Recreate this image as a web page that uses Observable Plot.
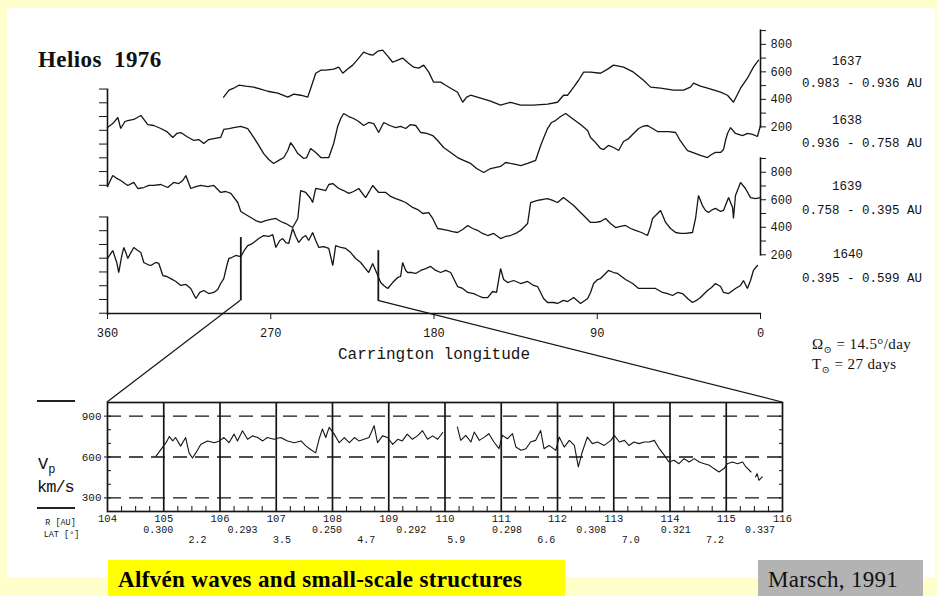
<!DOCTYPE html>
<html><head><meta charset="utf-8">
<script src="https://cdn.jsdelivr.net/npm/d3@7"></script>
<script src="https://cdn.jsdelivr.net/npm/@observablehq/plot@0.6"></script>
<style>
html,body{margin:0;padding:0;}
body{width:937px;height:596px;background:#ffffcc;position:relative;overflow:hidden;}
.abs{position:absolute;}
.lbl{position:absolute;line-height:1;white-space:pre;color:#111;}
.c{transform:translate(-50%,-50%);}
.l{transform:translateY(-50%);}
.mono{font-family:"Liberation Mono","DejaVu Sans Mono",monospace;}
.serif{font-family:"Liberation Serif","DejaVu Serif",serif;}
</style></head>
<body>
<div class="abs" style="left:7px;top:8px;width:928px;height:569px;background:#fff"></div>
<div id="top" class="abs" style="left:0;top:0"></div>
<div id="bot" class="abs" style="left:0;top:380px"></div>
<svg id="ov" class="abs" width="937" height="596" style="left:0;top:0;pointer-events:none;overflow:visible"></svg>

<div class="lbl l serif" style="left:38px;top:59px;font-size:23px;font-weight:bold;letter-spacing:0.4px;">Helios  1976</div>

<div class="lbl c mono" style="left:847px;top:62px;font-size:12.5px;">1637</div>
<div class="lbl c mono" style="left:862px;top:84px;font-size:12.5px;">0.983 - 0.936 AU</div>
<div class="lbl c mono" style="left:847px;top:121px;font-size:12.5px;">1638</div>
<div class="lbl c mono" style="left:862px;top:144px;font-size:12.5px;">0.936 - 0.758 AU</div>
<div class="lbl c mono" style="left:847px;top:187px;font-size:12.5px;">1639</div>
<div class="lbl c mono" style="left:862px;top:211px;font-size:12.5px;">0.758 - 0.395 AU</div>
<div class="lbl c mono" style="left:848px;top:255px;font-size:12.5px;">1640</div>
<div class="lbl c mono" style="left:862px;top:279px;font-size:12.5px;">0.395 - 0.599 AU</div>

<div class="lbl l serif" style="left:812px;top:346px;font-size:15px;letter-spacing:0.4px;">Ω<sub style="font-size:10px;">⊙</sub> = 14.5°/day</div>
<div class="lbl l serif" style="left:812px;top:366px;font-size:15px;letter-spacing:0.4px;">T<sub style="font-size:10px;">⊙</sub> = 27 days</div>

<div class="abs" style="left:37px;top:400px;width:38px;height:1.5px;background:#222"></div>
<div class="abs" style="left:37px;top:507px;width:38px;height:1.5px;background:#222"></div>
<div class="lbl l mono" style="left:38px;top:466px;font-size:17px;">V<sub style="font-size:12px;">p</sub></div>
<div class="lbl l mono" style="left:37px;top:487px;font-size:17px;letter-spacing:-1px;">km/s</div>

<div class="abs serif" style="left:108px;top:560px;width:457px;height:36px;background:#ffff00;"></div>
<div class="lbl l serif" style="left:118px;top:579px;font-size:23px;font-weight:bold;letter-spacing:0.35px;color:#000;">Alfvén waves and small-scale structures</div>
<div class="abs" style="left:758px;top:560px;width:165px;height:36px;background:#b3b3b3;"></div>
<div class="lbl l serif" style="left:768px;top:579px;font-size:23px;letter-spacing:0.3px;color:#111;">Marsch, 1991</div>

<script>
// ---------------- DATA ----------------
const rotations = ["1637", "1638", "1639", "1640"];
const rotOffset = [930, 530, 0, -400];   // vertical stacking offsets (km/s units)

const lon1637 = [296,293,290.4,287.6,283.8,279.4,275.5,271.7,266.1,260.6,257.3,253.5,249.6,247.4,245.2,242.4,239.7,235.3,232.5,230.3,227.6,224.8,221.5,218.8,216,213.8,211,208.3,205.5,202.8,200,197.3,194,191.2,188.4,185.7,182.9,180.2,176.3,173.6,170.8,167,164.2,162,159.8,154.3,148.8,143.3,137.8,132.2,125.1,117.4,111.9,108.6,106.3,103,100.3,97.5,93.7,88.2,84.3,81,75.5,70,64.5,60.6,55.1,47.9,42.4,38.6,36.9,33.1,29.2,22,18.2,14.9,11,7.2,3.9,1.1];
const v1637 = [416,467,481,503,496,489,474,459,445,416,438,430,416,503,590,612,612,620,634,590,620,649,700,743,728,721,750,758,714,670,685,700,663,634,627,649,598,525,525,503,481,452,379,416,430,409,387,358,379,358,358,365,379,430,430,489,539,598,598,590,620,649,634,598,539,489,481,467,467,489,518,496,481,452,430,379,481,554,634,685];

const lon1638 = [360,357.1,354.3,352.7,350.4,348.8,345.5,341.6,337.8,334.5,330.6,327.3,324,321.8,319.6,316.3,312.4,309.7,306.9,304.2,301.4,297.6,295.9,293.1,290.4,286.5,282.7,279.4,276.6,273.9,271.1,268.4,265.6,262.8,260.6,259,256.8,255.1,251.8,250.2,248,245.2,242.4,238,235.3,233.1,231.4,229.8,227,224.3,221.5,218.8,216,213.2,210.5,207.7,204.4,201.1,198.4,195.6,192.9,190.1,187.3,184,180.7,178,174.7,170.8,167,163.7,159.8,156.5,152.6,148.8,143.3,140.5,137.8,134.4,132.2,128.4,124,121.2,119,117.4,115.2,113,110.2,107.4,105.2,103,99.2,95.3,93.7,91.5,88.2,86.5,83.8,81,78.2,75.5,72.7,70,67.2,65,62.3,59.5,56.8,54,50.7,46.8,44.6,42.4,40.2,37.5,33.1,29.2,27,24.8,22,20.4,19.3,18.2,16.5,13.8,9.9,7.2,4.4,1.7,0];
const v1638 = [595,624,668,588,639,646,654,683,617,610,588,566,523,552,559,530,501,508,479,508,515,523,581,588,595,603,588,523,465,406,363,334,356,377,428,486,443,406,370,377,443,414,377,377,479,603,661,697,675,661,639,610,632,624,559,632,610,595,603,588,617,610,559,552,537,501,450,414,377,356,334,297,268,297,312,341,334,326,319,334,356,465,537,588,632,646,675,697,675,654,617,574,523,494,443,435,465,450,428,494,515,552,588,603,610,588,566,566,566,559,508,465,428,414,392,377,399,414,414,435,501,552,595,552,537,552,545,530,610];

const lon1639 = [360,357.1,354.9,352.7,350.4,348.8,345.5,343.3,340,337.2,334.5,330.6,326.8,323.5,320.7,318.5,316.8,314.1,311.3,308.6,304.7,301.4,297.6,294.8,292,288.2,286.5,283.8,281,278.3,275.5,272.8,270,267.2,264.5,261.7,257.9,255.1,253.5,250.7,248,246.9,245.2,242.4,239.7,238,235.8,232.5,229.8,227,224.3,221.5,217.7,215.4,213.8,210.5,206.6,203.9,201.1,198.4,195.6,191.8,189,186.2,182.9,180.7,178,175.2,172.5,169.7,167,164.2,161.4,158.7,155.9,153.2,150.4,147.1,143.3,140.5,137.8,135,132.2,128.4,126.7,125.1,122.9,120.1,117.4,114.6,111.9,108.6,105.8,103,100.3,97.5,93.7,90.9,88.2,85.4,82.7,79.9,77.1,74.4,71.6,68.9,65.6,62.3,60.6,59.5,57.3,55.1,52.3,49.6,46.8,44.1,41.3,37.5,35.8,34.2,32,30.3,28.7,26.4,24.8,22,20.4,17.6,15.4,14.9,13.8,11,8.3,5.5,2.8,0];
const v1639 = [696,776,755,740,718,704,726,682,689,704,704,711,689,726,718,740,776,682,696,704,696,704,653,660,646,580,515,493,471,449,435,449,457,464,442,427,398,464,667,653,609,580,682,675,667,711,718,682,667,646,660,682,616,667,704,653,653,624,609,595,580,544,529,500,507,464,391,384,377,369,362,384,413,391,377,355,340,355,318,333,340,355,377,427,580,587,595,602,609,595,580,616,587,558,522,486,435,435,442,464,427,398,406,413,391,377,362,340,406,464,493,522,435,391,362,355,355,362,464,631,558,522,507,529,537,515,522,616,544,464,631,726,682,616,609,616];

const lon1640 = [360,358.2,357.1,354.9,353.8,352.1,351,349.9,348.8,347.1,345.5,343.3,341.6,340,337.8,336.1,333.4,331.7,329.5,327.3,325.1,322.3,319.6,316.8,314.1,311.3,309.1,306.9,304.2,301.4,299.2,297.6,295.9,294.2,293.1,291.5,289.3,286.5,284.3,282.7,281,279.4,276.6,273.9,271.1,268.9,267.2,265,263.4,261.7,260.1,257.9,256.2,254.6,252.4,250.7,249.1,246.9,245.2,243.5,240.8,238,235.8,234.2,231.4,228.7,225.9,223.2,220.4,218.2,216,213.8,211,209.4,207.7,205.5,202.8,200,198.4,197.3,195.6,194.5,192.3,190.1,187.3,184.6,181.8,179.1,176.3,173.6,170.8,167,164.2,161.4,158.1,155.9,153.2,150.4,147.7,145.5,143.3,141.6,139.4,136.1,132.2,128.4,125.1,122.9,119.6,117.4,114.1,111.9,108.6,106.3,103,99.2,95.3,93.7,92,89.8,88.2,86,83.8,81,78.8,74.4,70.5,67.2,63.4,60.6,57.9,54,51.2,48.5,45.7,43,40.2,37.5,35.3,33.1,30.9,29.2,27,24.8,22,20.4,17.6,13.8,11,9.4,7.2,5.5,3.9,1.7];
const v1640 = [573,609,631,544,471,595,653,616,573,616,653,631,616,544,529,522,544,537,449,442,427,406,377,384,355,282,326,340,318,326,348,391,427,522,573,580,595,587,638,667,675,689,718,740,733,747,653,704,718,689,682,791,733,689,726,740,704,762,704,653,660,646,522,667,653,646,616,573,544,507,471,537,449,398,377,355,398,435,442,544,486,471,471,464,486,500,515,486,471,486,471,369,355,326,318,304,289,289,333,326,500,420,398,413,391,406,377,369,282,253,253,246,268,260,289,246,282,326,391,420,427,457,486,471,464,420,391,355,355,355,355,326,318,304,326,318,282,253,268,289,318,340,362,391,369,326,318,355,377,413,355,413,486,522];

const lonTicks = [360, 270, 180, 90, 0];
const rightTicks = [200, 300, 400, 500, 600, 700, 800, 900];
const rightLabelled = [200, 400, 600, 800];
const rightAxisRot = [0, 2];          // axes drawn for 1637 and 1639
const rightAxisRange = [190, 905];
const leftTicks = [175, 275, 375, 475, 575, 675, 775, 875];
const leftAxisRot = [1, 3];           // axes drawn for 1638 and 1640
const leftAxisRange = [160, 875];

// zoomed interval markers (on rotation 1640)
const markerLon = [286.5, 210.7];
const markerTop = [725, 630];
const markerBottom = [265, 265];

// zoom panel (days of 1976)
const zoomDays = [104, 116];
const zoomTopV = 1000;
const dayTicks = [104,105,106,107,108,109,110,111,112,113,114,115,116];
const dayLines = [105,106,107,108,109,110,111,112,113,114,115];
const vpGrid = [300, 600, 900];
const vpMinor = [300, 400, 500, 600, 700, 800, 900];

const dayVp = [104.86,105.04,105.10,105.16,105.21,105.30,105.39,105.45,105.51,105.57,105.66,105.78,105.90,105.99,106.07,106.16,106.25,106.31,106.40,106.49,106.58,106.67,106.76,106.84,106.96,107.08,107.20,107.32,107.44,107.53,107.61,107.70,107.76,107.82,107.88,107.94,108.03,108.12,108.21,108.30,108.39,108.47,108.56,108.65,108.74,108.80,108.89,108.98,109.07,109.16,109.24,109.33,109.42,109.51,109.60,109.69,109.78,109.87,109.96,110.10,
110.22,110.28,110.37,110.46,110.52,110.61,110.70,110.78,110.87,110.96,111.02,111.11,111.20,111.26,111.35,111.44,111.52,111.61,111.70,111.76,111.85,111.97,112.03,112.12,112.21,112.30,112.37,112.44,112.53,112.62,112.71,112.83,112.95,113.01,113.10,113.19,113.27,113.36,113.45,113.54,113.63,113.72,113.81,113.90,113.98,114.07,114.16,114.25,114.34,114.43,114.52,114.61,114.70,114.78,114.87,114.96,115.02,115.11,115.20,115.29,115.35,115.44,115.48,115.52,115.55,115.58,115.64];
const vp = [605,705,750,718,743,680,743,630,593,630,693,718,705,718,743,705,768,718,793,730,755,743,718,743,730,743,718,705,718,680,655,630,730,805,743,818,768,705,743,705,743,718,730,743,830,705,755,743,693,730,718,768,730,755,793,730,755,730,780,null,
820,722,759,710,783,722,746,771,710,661,759,734,771,673,649,661,710,722,795,661,685,649,746,673,722,685,527,637,746,698,710,685,722,759,710,722,685,710,698,710,710,722,661,612,563,576,551,588,563,588,563,551,539,515,490,515,551,563,551,563,527,490,null,454,478,429,454];

const rDay = [104.9, 106.4, 107.9, 109.4, 111.1, 112.6, 114.1, 115.6];
const rAU = ["0.300", "0.293", "0.250", "0.292", "0.298", "0.308", "0.321", "0.337"];
const latDay = [105.6, 107.1, 108.6, 110.2, 111.8, 113.3, 114.8];
const latDeg = ["2.2", "3.5", "4.7", "5.9", "6.6", "7.0", "7.2"];

// ---------------- BUILD ----------------
const rotLon = [lon1637, lon1638, lon1639, lon1640];
const rotV = [v1637, v1638, v1639, v1640];
const topRows = rotations.flatMap((r, k) => rotLon[k].map((lon, i) => ({rot: r, lon, d: rotV[k][i] + rotOffset[k]})));
const markerRows = markerLon.map((lon, i) => ({lon, y1: markerTop[i] + rotOffset[3], y2: markerBottom[i] + rotOffset[3]}));
const rightSegs = rightAxisRot.map(k => ({lon: 0, y1: rightAxisRange[0] + rotOffset[k], y2: rightAxisRange[1] + rotOffset[k]}));
const leftSegs = leftAxisRot.map(k => ({lon: 360, y1: leftAxisRange[0] + rotOffset[k], y2: leftAxisRange[1] + rotOffset[k]}));

const ink = "#151515";
const monoFont = "Liberation Mono, DejaVu Sans Mono, monospace";

const topMarks = [
  Plot.frame({anchor: "bottom", stroke: ink, strokeWidth: 1.3}),
  Plot.axisX({ticks: lonTicks, tickSize: 6, tickPadding: 9, fontSize: 12, tickFormat: d => String(d), stroke: ink}),
  Plot.text(["Carrington longitude"], {text: d => d, frameAnchor: "bottom", dy: 45, fontSize: 16, fill: ink}),
  Plot.ruleX(rightSegs, {x: "lon", y1: "y1", y2: "y2", stroke: ink, strokeWidth: 1.6}),
  Plot.ruleX(leftSegs, {x: "lon", y1: "y1", y2: "y2", stroke: ink, strokeWidth: 1.6})
];
rightAxisRot.forEach(k => {
  topMarks.push(Plot.axisY({anchor: "right", ticks: rightTicks.map(t => t + rotOffset[k]),
    tickFormat: d => { const v = Math.round(d - rotOffset[k]); return rightLabelled.includes(v) ? String(v) : ""; },
    tickSize: 5, tickPadding: 5, fontSize: 12, stroke: ink}));
});
leftAxisRot.forEach(k => {
  topMarks.push(Plot.axisY({anchor: "left", ticks: leftTicks.map(t => t + rotOffset[k]), tickFormat: () => "", tickSize: 8, stroke: ink}));
});
topMarks.push(Plot.line(topRows, {x: "lon", y: "d", z: "rot", stroke: ink, strokeWidth: 1.3, strokeLinejoin: "miter"}));
topMarks.push(Plot.ruleX(markerRows, {x: "lon", y1: "y1", y2: "y2", stroke: ink, strokeWidth: 1.8}));

const topPlot = Plot.plot({
  width: 937, height: 380,
  marginLeft: 107, marginRight: 177, marginTop: 29, marginBottom: 67,
  style: {background: "transparent", fontFamily: monoFont, color: ink, overflow: "visible"},
  x: {domain: [360, 0], label: null, axis: null},
  y: {domain: [-227, 1838], label: null, axis: null},
  marks: topMarks
});
document.getElementById("top").append(topPlot);

const vpRows = dayVp.map((day, i) => ({day, vp: vp[i]}));
const rRows = rDay.map((day, i) => ({day, t: rAU[i]}));
const latRows = latDay.map((day, i) => ({day, t: latDeg[i]}));
const quarterTicks = d3.range(104.25, 116, 0.25).filter(t => Math.abs(t - Math.round(t)) > 0.01);

const botPlot = Plot.plot({
  width: 937, height: 180,
  marginLeft: 107, marginRight: 155, marginTop: 22, marginBottom: 49,
  style: {background: "transparent", fontFamily: monoFont, color: ink, overflow: "visible"},
  x: {domain: [104, 116], label: null, axis: null},
  y: {domain: [200, 1000], label: null, axis: null},
  marks: [
    Plot.ruleY(vpGrid, {stroke: ink, strokeWidth: 1.4, strokeDasharray: "14,8"}),
    Plot.ruleX(dayLines, {stroke: ink, strokeWidth: 1.7}),
    Plot.frame({stroke: ink, strokeWidth: 1.7}),
    Plot.axisX({ticks: quarterTicks, tickSize: -5, tickFormat: () => "", stroke: ink}),
    Plot.axisX({ticks: dayTicks, tickSize: 0, tickPadding: 3, fontSize: 10.5, tickFormat: d => String(d)}),
    Plot.axisY({anchor: "left", ticks: vpGrid, tickSize: 3, tickPadding: 3, fontSize: 11, stroke: ink}),
    Plot.axisY({anchor: "left", ticks: vpMinor, tickSize: -4, tickFormat: () => "", stroke: ink}),
    Plot.axisY({anchor: "right", ticks: vpMinor, tickSize: -4, tickFormat: () => "", stroke: ink}),
    Plot.line(vpRows, {x: "day", y: "vp", stroke: ink, strokeWidth: 1.1}),
    Plot.text(rRows, {x: "day", text: "t", frameAnchor: "bottom", dy: 21, fontSize: 10, fill: ink}),
    Plot.text(latRows, {x: "day", text: "t", frameAnchor: "bottom", dy: 31, fontSize: 10, fill: ink}),
    Plot.text(["R [AU]"], {x: () => 104, text: d => d, frameAnchor: "bottom", dx: -47, dy: 13, fontSize: 8.5, fill: ink}),
    Plot.text(["LAT [°]"], {x: () => 104, text: d => d, frameAnchor: "bottom", dx: -46, dy: 25, fontSize: 8.5, fill: ink})
  ]
});
document.getElementById("bot").append(botPlot);

// connector lines from the zoom markers to the zoom panel (via the plots' scales)
const tx = topPlot.scale("x"), ty = topPlot.scale("y");
const bx = botPlot.scale("x"), by = botPlot.scale("y");
const botTop = 380;
const ov = d3.select("#ov");
markerLon.forEach((lon, i) => {
  ov.append("line")
    .attr("x1", tx.apply(lon)).attr("y1", ty.apply(markerBottom[i] + rotOffset[3]))
    .attr("x2", bx.apply(zoomDays[i])).attr("y2", botTop + by.apply(zoomTopV))
    .attr("stroke", ink).attr("stroke-width", 1.2);
});
</script>
</body></html>
